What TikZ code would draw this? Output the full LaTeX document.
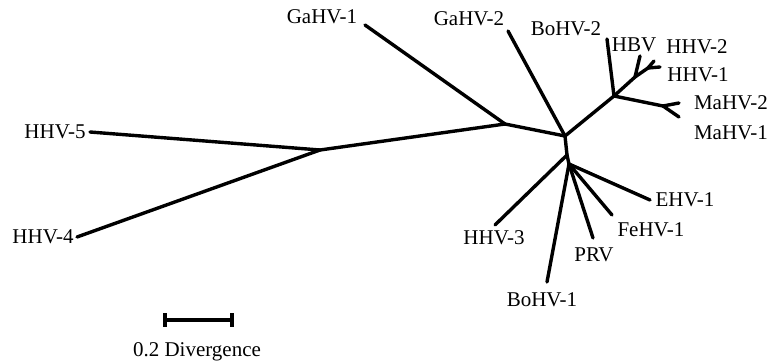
\documentclass[tikz,border=0pt]{standalone}
\usepackage{fontspec}
\setmainfont{Liberation Serif}
\usetikzlibrary{positioning}

\begin{document}
\begin{tikzpicture}[x=1pt, y=-1pt, every node/.style={font=\fontsize{21}{25}\selectfont, inner sep=0pt}, branch/.style={line width=3.4pt, line cap=round}]

\useasboundingbox (0,0) rectangle (771,364);

% Inner nodes of the tree
\coordinate (n45) at (320,150);
\coordinate (nga) at (505,124);
\coordinate (root) at (565,136);
\coordinate (nhs) at (614,96);
\coordinate (nhb) at (635,77);
\coordinate (nh12) at (648,68);
\coordinate (nma) at (663,106);
\coordinate (nv3) at (567,155);
\coordinate (nva) at (569,164);

% Tips
\coordinate (hhv5) at (90,132);
\coordinate (hhv4) at (77,237);
\coordinate (gahv1) at (365,25);
\coordinate (gahv2) at (508,31);
\coordinate (bohv2) at (607,39);
\coordinate (hbv) at (640,56);
\coordinate (hhv2) at (654,61);
\coordinate (hhv1) at (660,67);
\coordinate (mahv2) at (679,103);
\coordinate (mahv1) at (679,117);
\coordinate (hhv3) at (495,225);
\coordinate (ehv1) at (650,200);
\coordinate (fehv1) at (612,215);
\coordinate (prv) at (593,238);
\coordinate (bohv1) at (547,282);

% Branches
\foreach \a/\b in {n45/hhv5, n45/hhv4, n45/nga, nga/gahv1, nga/root, root/gahv2, root/nhs, nhs/bohv2, nhs/nhb, nhb/hbv, nhb/nh12, nh12/hhv2, nh12/hhv1, nhs/nma, nma/mahv2, nma/mahv1, root/nv3, nv3/hhv3, nv3/nva, nva/ehv1, nva/fehv1, nva/prv, nva/bohv1} {
  \draw[branch] (\a) -- (\b);
}

% Labels
\node (lhhv5) at (55,132) {HHV-5};
\node (lhhv4) at (43,237) {HHV-4};
\node (lgahv1) at (322,17) {GaHV-1};
\node (lgahv2) at (469,19) {GaHV-2};
\node (lbohv2) at (566,29) {BoHV-2};
\node (lhbv) at (634,45) {HBV};
\node (lhhv2) at (697,47) {HHV-2};
\node (lhhv1) at (698,75) {HHV-1};
\node (lmahv2) at (731,103) {MaHV-2};
\node (lmahv1) at (731,133) {MaHV-1};
\node (lehv1) at (685,200) {EHV-1};
\node (lfehv1) at (651,230) {FeHV-1};
\node (lhhv3) at (494,238) {HHV-3};
\node (lprv) at (594,255) {PRV};
\node (lbohv1) at (542,300) {BoHV-1};

% Scale bar
\coordinate (sbl) at (165,320);
\coordinate (sbr) at (232,320);
\draw[line width=3.4pt] (sbl) -- (sbr);
\draw[line width=3.4pt] (sbl) ++(0,-7) -- ++(0,14);
\draw[line width=3.4pt] (sbr) ++(0,-7) -- ++(0,14);
\node (lscale) at (197,352) {0.2 Divergence};

\end{tikzpicture}
\end{document}
